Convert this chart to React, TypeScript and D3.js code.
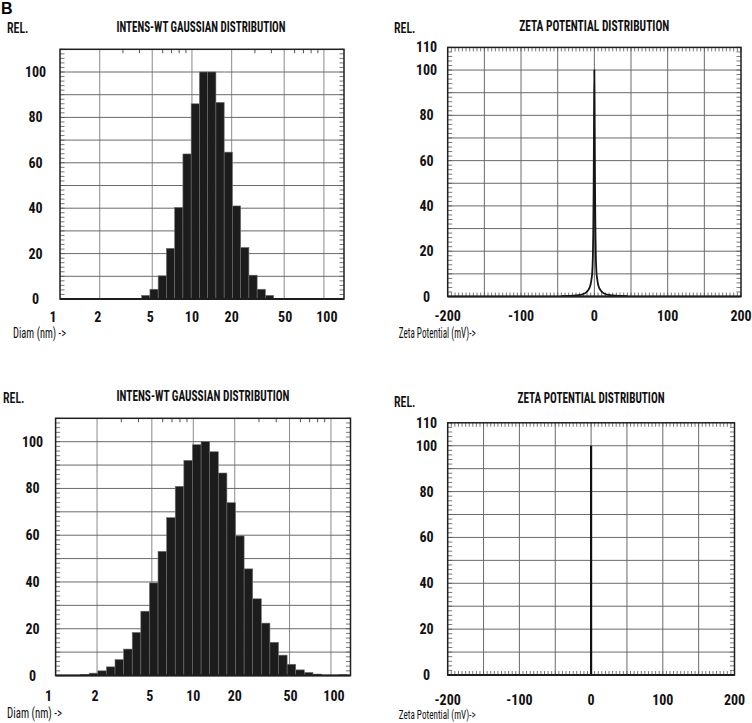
import React from 'react';
import * as d3 from 'd3';

// ---------- data ----------
const diamTicks = [1, 2, 5, 10, 20, 50, 100];
const diamTickDx = [-7, -2, -2, 0, 0, 1, 3];
const diamGrid = [2, 5, 10, 20, 50, 100];
const diamMinor = [3, 4, 6, 7, 8, 9, 30, 40, 60, 70, 80, 90];
const relTicksSize = [0, 20, 40, 60, 80, 100];
const relTicksZeta = [0, 20, 40, 60, 80, 100, 110];
const relGrid = [10, 20, 30, 40, 50, 60, 70, 80, 90, 100];
const zetaTicks = [-200, -100, 0, 100, 200];
const zetaGrid = [-150, -100, -50, 0, 50, 100, 150];

// Sample A: intensity-weighted Gaussian distribution (bin centre diameters, nm)
const sizeADiam = [4.47, 5.16, 5.96, 6.88, 7.95, 9.18, 10.6, 12.24, 14.13, 16.33, 18.85, 21.77, 25.14, 29.03, 33.52, 38.7];
const sizeAVal = [1.6, 4.3, 10.2, 22.3, 40.3, 63.9, 86, 100, 100, 86.6, 64.7, 41, 22.7, 10.5, 4.3, 1.6];

// Sample B
const sizeBDiam = [1.633, 1.885, 2.177, 2.514, 2.903, 3.352, 3.87, 4.469, 5.161, 5.96, 6.882, 7.947, 9.178, 10.6, 12.24, 14.13, 16.33, 18.85, 21.77, 25.14, 29.03, 33.52, 38.7, 44.69, 51.61, 59.6, 68.82, 79.47, 91.78, 106.0, 122.4];
const sizeBVal = [0.4, 1, 2, 3.7, 6.8, 11.3, 18.4, 27.5, 39.6, 53.1, 67.5, 80.9, 92, 98.7, 100, 95.7, 86.6, 73.9, 59.7, 45.6, 32.8, 22.4, 14.2, 8.7, 4.8, 2.4, 1.3, 0.6, 0, 0, 0.3];

// Zeta potential A (mV, relative)
const zetaAX = [-45, -35, -25, -20, -15, -12, -10, -8, -6, -5, -4, -3, -2.5, -2, -1.5, -1, -0.5, 0, 0.5, 1, 1.5, 2, 2.5, 3, 4, 5, 6, 8, 10, 12, 15, 20, 25, 35, 45];
const zetaAY = [0.2, 0.3, 0.5, 0.7, 1.1, 1.6, 2.2, 3, 4.3, 5.5, 7.5, 10, 13, 18, 28, 45, 75, 100, 75, 45, 28, 18, 13, 10, 7.5, 5.5, 4.3, 3, 2.2, 1.6, 1.1, 0.7, 0.5, 0.3, 0.2];

// Zeta potential B
const zetaBX = [0];
const zetaBY = [100];

// ---------- style ----------
const NARROW = "'Liberation Sans Narrow', 'Arial Narrow', 'Roboto Condensed', 'Liberation Sans', Arial, sans-serif";
const GRID = '#6a6a6a';
const FRAME = '#1e1e1e';
const TICK = '#555';
const TICKFS = 14;

type Layout = {
  left: number; right: number; top: number; bottom: number;
  title: string; titleX: number; titleY: number; titleW: number;
  relX: number; relY: number; yLabX: number; xLabY: number;
  axisLabel: string; axisX: number; axisY: number; axisW: number; axisFs: number;
};

function Common({ L, yScale, yTicks }: { L: Layout; yScale: d3.ScaleLinear<number, number>; yTicks: number[] }) {
  const minorY = d3.range(0, 111, 2);
  return (
    <g>
      <text x={L.relX} y={L.relY} fontFamily={NARROW} fontWeight={600} fontSize={14.5} fill="#111"
        textLength={21.5} lengthAdjust="spacingAndGlyphs">REL.</text>
      <text x={L.titleX} y={L.titleY} fontFamily={NARROW} fontWeight="bold" fontSize={14} fill="#111"
        textAnchor="middle" textLength={L.titleW} lengthAdjust="spacingAndGlyphs">{L.title}</text>
      <text x={L.axisX} y={L.axisY} fontFamily={NARROW} fontSize={L.axisFs} fill="#111"
        textLength={L.axisW} lengthAdjust="spacingAndGlyphs">{L.axisLabel}</text>
      {relGrid.map(v => (
        <line key={'h' + v} x1={L.left} x2={L.right} y1={yScale(v)} y2={yScale(v)} stroke={GRID} strokeWidth={1} />
      ))}
      {minorY.map(v => (
        <g key={'m' + v}>
          <line x1={L.left} x2={L.left + 4.5} y1={yScale(v)} y2={yScale(v)} stroke={TICK} strokeWidth={0.8} />
          <line x1={L.right - 4.5} x2={L.right} y1={yScale(v)} y2={yScale(v)} stroke={TICK} strokeWidth={0.8} />
        </g>
      ))}
      {yTicks.map(v => (
        <text key={'yl' + v} x={L.yLabX} y={yScale(v)} dy="0.36em" textAnchor="middle" fontFamily={NARROW}
          fontWeight="bold" fontSize={TICKFS} fill="#111">{v}</text>
      ))}
    </g>
  );
}

function Frame({ L }: { L: Layout }) {
  return (
    <g>
      <rect x={L.left} y={L.top} width={L.right - L.left} height={L.bottom - L.top} fill="none" stroke={FRAME} strokeWidth={1.5} />
      <line x1={L.left} x2={L.right} y1={L.bottom} y2={L.bottom} stroke={FRAME} strokeWidth={2} />
    </g>
  );
}

function SizePanel({ L, diam, vals, xMax }: { L: Layout; diam: number[]; vals: number[]; xMax: number }) {
  const x = d3.scaleLog().domain([1, xMax]).range([L.left, L.right]);
  const y = d3.scaleLinear().domain([0, 110]).range([L.bottom, L.top]);
  const n = diam.length;
  const edge = (i: number) => {
    if (i <= 0) return diam[0] / Math.sqrt(diam[1] / diam[0]);
    if (i >= n) return diam[n - 1] * Math.sqrt(diam[n - 1] / diam[n - 2]);
    return Math.sqrt(diam[i - 1] * diam[i]);
  };
  return (
    <g>
      {diamGrid.map(v => (
        <line key={'v' + v} x1={x(v)} x2={x(v)} y1={L.top} y2={L.bottom} stroke="#8a8a8a" strokeWidth={1} />
      ))}
      <Common L={L} yScale={y} yTicks={relTicksSize} />
      {diamMinor.map(v => (
        <line key={'tm' + v} x1={x(v)} x2={x(v)} y1={L.top} y2={L.top + 4} stroke={TICK} strokeWidth={1} />
      ))}
      {diam.map((d, i) => {
        const x0 = x(edge(i));
        const x1 = Math.min(x(edge(i + 1)), L.right);
        const v = vals[i];
        if (v <= 0) return null;
        return (
          <rect key={'b' + i} x={x0} y={y(v)} width={x1 - x0} height={y(0) - y(v)} fill="#1c1c1c" stroke="#6e6e6e" strokeWidth={0.6} />
        );
      })}
      <Frame L={L} />
      {diamTicks.map((v, i) => (
        <text key={'xl' + v} x={x(v) + diamTickDx[i]} y={L.xLabY} textAnchor="middle" fontFamily={NARROW}
          fontWeight="bold" fontSize={TICKFS} fill="#111">{v}</text>
      ))}
    </g>
  );
}

function ZetaPanel({ L, xs, ys, spike }: { L: Layout; xs: number[]; ys: number[]; spike: boolean }) {
  const x = d3.scaleLinear().domain([-200, 200]).range([L.left, L.right]);
  const y = d3.scaleLinear().domain([0, 110]).range([L.bottom, L.top]);
  const minorX = d3.range(-200, 201, 5);
  const pts = xs.map((v, i) => [v, ys[i]] as [number, number]);
  const line = d3.line<[number, number]>().x(d => x(d[0])).y(d => y(d[1])).curve(d3.curveMonotoneX);
  return (
    <g>
      {zetaGrid.map(v => (
        <line key={'v' + v} x1={x(v)} x2={x(v)} y1={L.top} y2={L.bottom} stroke={GRID} strokeWidth={1} />
      ))}
      <Common L={L} yScale={y} yTicks={relTicksZeta} />
      {minorX.map(v => (
        <g key={'mx' + v}>
          <line x1={x(v)} x2={x(v)} y1={L.top} y2={L.top + 4} stroke={TICK} strokeWidth={0.8} />
          <line x1={x(v)} x2={x(v)} y1={L.bottom - 4} y2={L.bottom} stroke={TICK} strokeWidth={0.8} />
        </g>
      ))}
      {spike
        ? xs.map((v, i) => (
          <line key={'s' + i} x1={x(v)} x2={x(v)} y1={y(0)} y2={y(ys[i])} stroke="#111" strokeWidth={2.2} />
        ))
        : <path d={line(pts) || ''} fill="none" stroke="#151515" strokeWidth={1.8} />}
      <Frame L={L} />
      {zetaTicks.map(v => (
        <text key={'xl' + v} x={x(v)} y={L.xLabY} textAnchor="middle" fontFamily={NARROW}
          fontWeight="bold" fontSize={TICKFS} fill="#111">{v}</text>
      ))}
    </g>
  );
}

const TL: Layout = {
  left: 60, right: 344, top: 49.3, bottom: 299,
  title: 'INTENS-WT GAUSSIAN DISTRIBUTION', titleX: 201, titleY: 31.5, titleW: 169,
  relX: 7, relY: 33, yLabX: 35.5, xLabY: 322,
  axisLabel: 'Diam (nm) ->', axisX: 13, axisY: 337.5, axisW: 53, axisFs: 14.5,
};
const TR: Layout = {
  left: 447.7, right: 741, top: 47.4, bottom: 296.5,
  title: 'ZETA POTENTIAL DISTRIBUTION', titleX: 594.3, titleY: 30.5, titleW: 150,
  relX: 394, relY: 33, yLabX: 426.5, xLabY: 320.5,
  axisLabel: 'Zeta Potential (mV)->', axisX: 398.7, axisY: 337.5, axisW: 77, axisFs: 14.5,
};
const BL: Layout = {
  left: 55.6, right: 350.5, top: 418.3, bottom: 675.5,
  title: 'INTENS-WT GAUSSIAN DISTRIBUTION', titleX: 203, titleY: 400.5, titleW: 173,
  relX: 3, relY: 403, yLabX: 32.5, xLabY: 700.5,
  axisLabel: 'Diam (nm) ->', axisX: 7, axisY: 717.5, axisW: 55, axisFs: 14.5,
};
const BR: Layout = {
  left: 447.7, right: 734.5, top: 422.8, bottom: 675,
  title: 'ZETA POTENTIAL DISTRIBUTION', titleX: 591, titleY: 403.3, titleW: 147,
  relX: 394, relY: 406.5, yLabX: 426.5, xLabY: 704.5,
  axisLabel: 'Zeta Potential (mV)->', axisX: 398.7, axisY: 719, axisW: 77, axisFs: 13.5,
};

export default function App() {
  return (
    <svg width={752} height={723} viewBox="0 0 752 723"
      style={{ position: 'absolute', left: 0, top: 0, background: '#fff' }}>
      <rect x={0} y={0} width={752} height={723} fill="#fff" />
      <text x={1} y={14} fontFamily="'Liberation Sans', Arial, sans-serif" fontWeight="bold" fontSize={16} fill="#000">B</text>
      <SizePanel L={TL} diam={sizeADiam} vals={sizeAVal} xMax={142} />
      <ZetaPanel L={TR} xs={zetaAX} ys={zetaAY} spike={false} />
      <SizePanel L={BL} diam={sizeBDiam} vals={sizeBVal} xMax={138.6} />
      <ZetaPanel L={BR} xs={zetaBX} ys={zetaBY} spike={true} />
    </svg>
  );
}
